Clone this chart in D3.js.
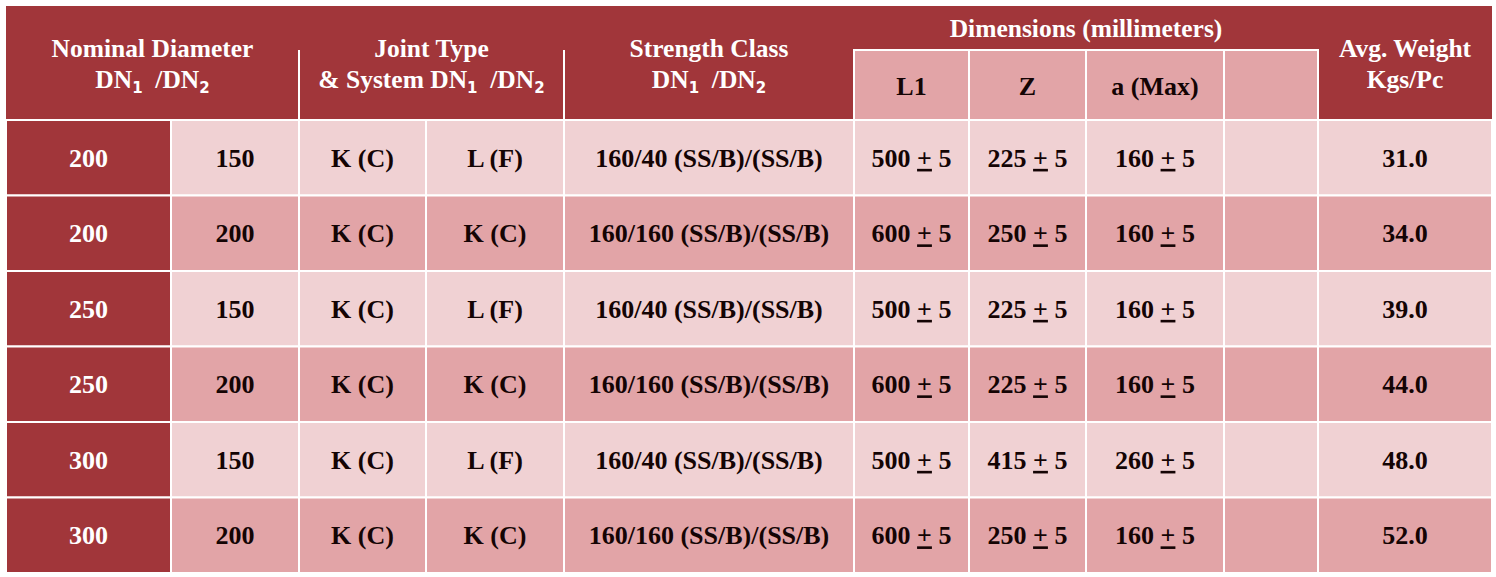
<!DOCTYPE html>
<html>
<head>
<meta charset="utf-8">
<script src="https://cdn.jsdelivr.net/npm/d3@7"></script>
<style>
  html, body { margin: 0; padding: 0; background: #ffffff; }
  svg { display: block; }
  text { font-family: "Liberation Serif", "Times New Roman", serif; font-weight: bold; white-space: pre; }
</style>
</head>
<body>
<svg id="chart" width="1496" height="577"></svg>
<script>
// ---------------- data ----------------
const dn1 = ["200", "200", "250", "250", "300", "300"];
const dn2 = ["150", "200", "150", "200", "150", "200"];
const joint1 = ["K (C)", "K (C)", "K (C)", "K (C)", "K (C)", "K (C)"];
const joint2 = ["L (F)", "K (C)", "L (F)", "K (C)", "L (F)", "K (C)"];
const strength = [
  "160/40 (SS/B)/(SS/B)", "160/160 (SS/B)/(SS/B)", "160/40 (SS/B)/(SS/B)",
  "160/160 (SS/B)/(SS/B)", "160/40 (SS/B)/(SS/B)", "160/160 (SS/B)/(SS/B)"
];
const l1 = [500, 600, 500, 600, 500, 600];
const zDim = [225, 250, 225, 225, 415, 250];
const aMax = [160, 160, 160, 160, 260, 160];
const tolerance = [5, 5, 5, 5, 5, 5];
const weight = ["31.0", "34.0", "39.0", "44.0", "48.0", "52.0"];
const subHeaders = ["L1", "Z", "a (Max)", ""];

// ---------------- layout ----------------
const colKeys = ["dn1", "dn2", "j1", "j2", "str", "l1", "z", "a", "blank", "wt"];
const colEdges = [6, 171, 299, 426, 564, 854, 969, 1086, 1224, 1318, 1492];
const xLeft = d3.scaleOrdinal().domain(colKeys).range(colEdges.slice(0, -1));
const xRight = d3.scaleOrdinal().domain(colKeys).range(colEdges.slice(1));
const xMid = k => (xLeft(k) + xRight(k)) / 2;

const rowIdx = d3.range(dn1.length);
const y = d3.scaleBand().domain(rowIdx).range([120, 573]).padding(0);

const DARK = "#a1363a", LIGHT = "#f0d1d3", MID = "#e2a4a7", INK = "#140404";
const FS = 26, HFS = 25.5;

const svg = d3.select("#chart");

// ---------------- header ----------------
svg.append("rect").attr("x", 6).attr("y", 6).attr("width", 1486).attr("height", 114)
  .attr("fill", DARK);

[xLeft("j1"), xLeft("str")].forEach(x => {
  svg.append("line").attr("x1", x).attr("x2", x).attr("y1", 50).attr("y2", 120)
    .attr("stroke", "#fff").attr("stroke-width", 2);
});

const subKeys = ["l1", "z", "a", "blank"];
const sub = svg.append("g");
sub.selectAll("rect").data(subKeys).join("rect")
  .attr("x", k => xLeft(k)).attr("y", 50)
  .attr("width", k => xRight(k) - xLeft(k)).attr("height", 70)
  .attr("fill", MID).attr("stroke", "#fff").attr("stroke-width", 2);
sub.selectAll("text").data(subKeys).join("text")
  .attr("x", k => xMid(k)).attr("y", 86).attr("dy", "0.35em")
  .attr("text-anchor", "middle").attr("font-size", FS).attr("fill", INK)
  .text((k, i) => subHeaders[i]);

function headerLine(x, yy, parts) {
  const t = svg.append("text").attr("x", x).attr("y", yy)
    .attr("text-anchor", "middle").attr("font-size", HFS).attr("fill", "#fff");
  parts.forEach(p => {
    if (typeof p === "string") {
      t.append("tspan").text(p);
    } else {
      t.append("tspan").attr("dy", 5).attr("font-family", "DejaVu Sans")
        .attr("font-size", 15).text(p.sub);
      t.append("tspan").attr("dy", -5).text(p.after || "");
    }
  });
}
function dnParts(prefix) {
  return [prefix + "DN", {sub: "1", after: "\u00a0\u00a0/DN"}, {sub: "2"}];
}
const cNom = (xLeft("dn1") + xRight("dn2")) / 2;
const cJoint = (xLeft("j1") + xRight("j2")) / 2;
const cStr = xMid("str");
const cDim = (xLeft("l1") + xRight("blank")) / 2;
const cWt = xMid("wt");

headerLine(cNom, 57, ["Nominal Diameter"]);
headerLine(cNom, 88, dnParts(""));
headerLine(cJoint, 57, ["Joint Type"]);
headerLine(cJoint, 88, dnParts("& System "));
headerLine(cStr, 57, ["Strength Class"]);
headerLine(cStr, 88, dnParts(""));
headerLine(cDim, 37, ["Dimensions (millimeters)"]);
headerLine(cWt, 57, ["Avg. Weight"]);
headerLine(cWt, 88, ["Kgs/Pc"]);

// ---------------- body ----------------
const cellValue = {
  dn1: i => dn1[i], dn2: i => dn2[i], j1: i => joint1[i], j2: i => joint2[i],
  str: i => strength[i], l1: i => l1[i], z: i => zDim[i], a: i => aMax[i],
  blank: i => "", wt: i => weight[i]
};
const tolKeys = new Set(["l1", "z", "a"]);

const cells = [];
rowIdx.forEach(i => colKeys.forEach(k => cells.push({i, k})));

const body = svg.append("g");
body.selectAll("rect").data(cells).join("rect")
  .attr("x", d => xLeft(d.k)).attr("y", d => y(d.i))
  .attr("width", d => xRight(d.k) - xLeft(d.k)).attr("height", y.bandwidth())
  .attr("fill", d => d.k === "dn1" ? DARK : (d.i % 2 === 0 ? LIGHT : MID))
  .attr("stroke", "#fff").attr("stroke-width", 2);

const texts = body.selectAll("text").data(cells).join("text")
  .attr("x", d => xMid(d.k)).attr("y", d => y(d.i) + y.bandwidth() / 2)
  .attr("dy", "0.35em").attr("text-anchor", "middle").attr("font-size", FS)
  .attr("fill", d => d.k === "dn1" ? "#fff" : INK);

texts.each(function(d) {
  const t = d3.select(this);
  const v = cellValue[d.k](d.i);
  if (tolKeys.has(d.k)) {
    t.append("tspan").text(v + " ");
    t.append("tspan").attr("text-decoration", "underline").text("+");
    t.append("tspan").text(" " + tolerance[d.i]);
  } else {
    t.text(v);
  }
});
</script>
</body>
</html>
